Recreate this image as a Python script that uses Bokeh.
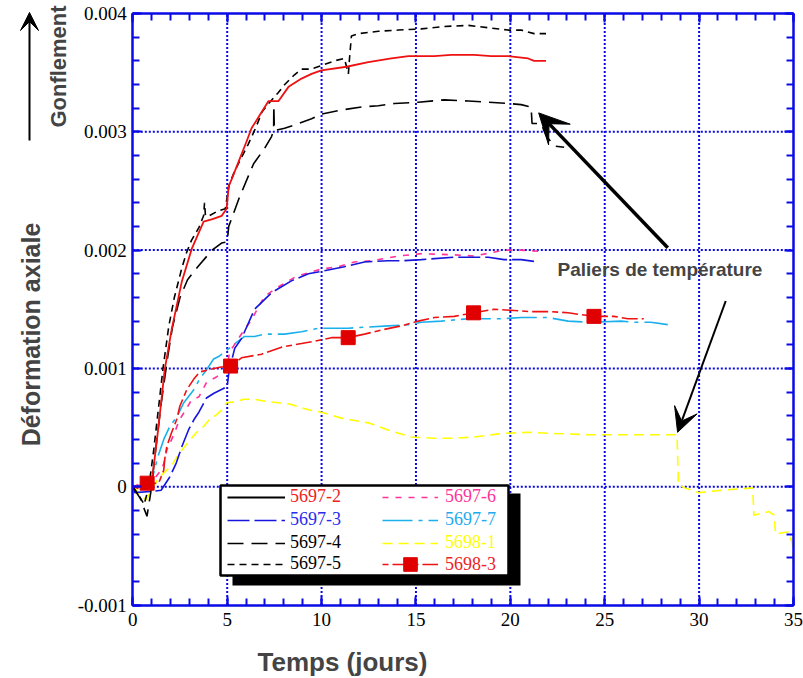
import math
from bokeh.plotting import figure
from bokeh.models import (LinearAxis, SingleIntervalTicker, CustomJSTickFormatter, Range1d,
                          Legend, LegendItem, BoxAnnotation, Label, Arrow, VeeHead)
from bokeh.embed import file_html
from bokeh.resources import INLINE

# ---------------- data (days, axial strain) ----------------
t_5697_2 = [0.0, 0.63, 1.0, 1.37, 1.69, 2.06, 2.59, 3.12, 3.75, 4.18, 4.71, 4.97, 5.08, 5.24,
            5.61, 6.03, 6.29, 6.72, 7.19, 7.72, 8.25, 8.94, 9.47, 9.99, 11.32, 12.48, 13.7,
            14.6, 15.97, 16.87, 18.09, 18.98, 19.88, 20.94, 21.26, 21.89]
v_5697_2 = [0.0, 0.0, 0.00003, 0.00052, 0.00099, 0.00133, 0.00173, 0.00201, 0.00224, 0.00226,
            0.00229, 0.00235, 0.00254, 0.00260, 0.00275, 0.00292, 0.00303, 0.00314, 0.00326,
            0.00326, 0.00338, 0.00345, 0.00349, 0.00352, 0.00355, 0.00359, 0.00362, 0.00364,
            0.00364, 0.00365, 0.00365, 0.00364, 0.00364, 0.00362, 0.00360, 0.00360]

t_5697_3 = [0.0, 0.1, 1.0, 1.5, 1.95, 2.3, 2.6, 2.95, 3.25, 3.5, 3.9, 4.3, 4.8, 5.0, 5.1, 5.4,
            5.75, 6.45, 7.35, 8.4, 9.3, 9.99, 11.21, 12.27, 13.54, 14.23, 15.28, 17.03, 18.83,
            19.67, 20.57, 21.47]
v_5697_3 = [0.0, -0.00005, -0.00004, -0.00003, 0.00008, 0.00020, 0.00034, 0.00048, 0.00057,
            0.00063, 0.00075, 0.00079, 0.00083, 0.00085, 0.00098, 0.00117, 0.00125, 0.00150,
            0.00164, 0.00174, 0.00180, 0.00182, 0.00186, 0.00190, 0.00191, 0.00191, 0.00192,
            0.00194, 0.00194, 0.00192, 0.00192, 0.00190]

t_5697_4 = [0.0, 0.4, 0.75, 0.95, 1.2, 1.5, 1.85, 2.1, 2.5, 2.9, 3.5, 4.2, 4.7, 5.0, 5.08,
            5.61, 6.13, 6.4, 6.98, 7.35, 7.46, 7.47, 7.5, 8.04, 8.78, 9.47, 9.99, 10.89, 12.11,
            13.01, 13.86, 15.12, 16.5, 17.77, 18.83, 19.88, 20.57, 21.1, 21.15, 21.63, 21.89,
            22.32, 22.85]
v_5697_4 = [0.0, -0.00010, -0.00025, -0.00005, 0.00030, 0.00070, 0.00110, 0.00135, 0.00160,
            0.00175, 0.00187, 0.00200, 0.00206, 0.00207, 0.00220, 0.00243, 0.00263, 0.00273,
            0.00286, 0.00296, 0.00301, 0.00322, 0.00301, 0.00303, 0.00307, 0.00311, 0.00315,
            0.00318, 0.00321, 0.00322, 0.00324, 0.00325, 0.00327, 0.00326, 0.00325, 0.00324,
            0.00323, 0.00321, 0.00307, 0.00307, 0.00297, 0.00288, 0.00287]

t_5697_5 = [0.0, 0.35, 0.6, 0.85, 1.1, 1.35, 1.6, 1.9, 2.2, 2.6, 2.85, 3.1, 3.5, 3.75, 3.8,
            3.85, 4.05, 4.5, 4.9, 5.1, 5.4, 5.75, 6.1, 6.5, 6.85, 7.2, 7.7, 8.05, 8.55, 8.94,
            9.45, 9.99, 10.68, 11.21, 11.42, 11.48, 11.58, 11.95, 13.01, 14.07, 15.28, 16.5,
            17.77, 18.83, 19.88, 20.57, 21.26, 21.89]
v_5697_5 = [0.0, -0.00008, -0.00015, 0.0, 0.00030, 0.00065, 0.00100, 0.00135, 0.00160,
            0.00185, 0.00198, 0.00208, 0.00219, 0.00229, 0.00240, 0.00229, 0.00229, 0.00233,
            0.00235, 0.00255, 0.00267, 0.00278, 0.00289, 0.00303, 0.00317, 0.00324, 0.00333,
            0.00340, 0.00348, 0.00353, 0.00353, 0.00356, 0.00360, 0.00362, 0.00349, 0.00362,
            0.00381, 0.00383, 0.00385, 0.00386, 0.00387, 0.00389, 0.00390, 0.00388, 0.00386,
            0.00386, 0.00383, 0.00383]

t_5697_6 = [0.0, 0.5, 1.0, 1.5, 1.65, 1.8, 2.2, 2.45, 2.8, 3.1, 3.5, 3.9, 4.45, 4.97, 5.13,
            5.92, 6.29, 6.66, 6.98, 7.72, 8.57, 9.31, 9.99, 10.89, 11.74, 12.64, 14.07, 15.28,
            17.03, 18.09, 19.67, 20.57, 21.47]
v_5697_6 = [0.0, 0.00003, 0.00004, 0.00014, 0.00020, 0.00031, 0.00045, 0.00056, 0.00065,
            0.00073, 0.00076, 0.00088, 0.00093, 0.00099, 0.00114, 0.00133, 0.00141, 0.00152,
            0.00161, 0.00169, 0.00177, 0.00181, 0.00184, 0.00186, 0.00190, 0.00191, 0.00195,
            0.00197, 0.00196, 0.00195, 0.00200, 0.00200, 0.00199]

t_5697_7 = [0.0, 0.6, 1.0, 1.32, 1.64, 1.96, 2.33, 2.7, 3.23, 3.54, 3.91, 4.28, 4.55, 5.5,
            5.92, 6.45, 6.98, 8.04, 8.94, 9.84, 11.42, 12.48, 13.54, 14.6, 15.28, 16.34, 17.77,
            19.51, 20.57, 22.0, 23.06, 24.27, 25.86, 26.54, 27.44, 28.34]
v_5697_7 = [0.0, 0.00002, 0.00005, 0.00025, 0.00040, 0.00051, 0.00059, 0.00071, 0.00082,
            0.00091, 0.00099, 0.00108, 0.00110, 0.00122, 0.00127, 0.00127, 0.00129, 0.00129,
            0.00131, 0.00134, 0.00134, 0.00135, 0.00136, 0.00137, 0.00139, 0.00140, 0.00142,
            0.00142, 0.00143, 0.00143, 0.00140, 0.00139, 0.00140, 0.00139, 0.00139, 0.00137]

t_5698_1 = [0.0, 0.2, 0.37, 0.74, 0.9, 1.4, 1.8, 2.06, 2.33, 2.6, 2.96, 3.38, 3.75, 4.07, 4.44,
            4.71, 4.97, 5.5, 5.87, 6.4, 7.08, 8.3, 9.31, 9.99, 11.05, 12.48, 13.7, 14.76, 15.97,
            17.03, 18.09, 19.51, 20.94, 22.37, 24.11, 25.91, 27.65, 28.83, 28.9, 29.24, 29.98,
            31.2, 32.84, 32.9, 33.7, 33.97, 34.05, 34.74, 34.95, 35.0]
v_5698_1 = [0.0, -0.00003, -0.00008, -0.00011, -0.00005, 0.00008, 0.00014, 0.00018, 0.00025,
            0.00031, 0.00038, 0.00046, 0.00051, 0.00057, 0.00061, 0.00065, 0.00071, 0.00072,
            0.00074, 0.00074, 0.00072, 0.00070, 0.00065, 0.00063, 0.00058, 0.00054, 0.00047,
            0.00042, 0.00041, 0.00041, 0.00042, 0.00045, 0.00046, 0.00045, 0.00044, 0.00044,
            0.00044, 0.00044, 0.00002, -0.00001, -0.00005, -0.00003, -0.00001, -0.00024,
            -0.00021, -0.00024, -0.00040, -0.00038, -0.00049, -0.00066]

t_5698_3 = [0.0, 0.4, 0.76, 1.37, 1.64, 1.69, 1.8, 2.06, 2.33, 2.49, 2.7, 2.86, 3.23, 3.54,
            4.07, 4.6, 5.18, 5.76, 6.82, 7.88, 8.94, 9.63, 10.52, 11.41, 12.27, 13.33, 14.23,
            15.12, 15.97, 17.03, 18.05, 19.14, 20.2, 21.1, 22.16, 23.06, 24.43, 25.49, 26.23,
            27.07]
v_5698_3 = [0.0, -0.00002, 0.00003, 0.00003, 0.00014, 0.00023, 0.00034, 0.00046, 0.00057,
            0.00068, 0.00076, 0.00082, 0.00091, 0.00097, 0.00099, 0.00101, 0.00102, 0.00109,
            0.00112, 0.00118, 0.00121, 0.00123, 0.00126, 0.00126, 0.00129, 0.00133, 0.00136,
            0.00140, 0.00143, 0.00144, 0.00147, 0.00150, 0.00149, 0.00148, 0.00148, 0.00147,
            0.00144, 0.00144, 0.00142, 0.00142]
t_5698_3_marks = [0.76, 5.18, 11.41, 18.05, 24.43]
v_5698_3_marks = [0.00003, 0.00102, 0.00126, 0.00147, 0.00144]

x_ticks = [0, 5, 10, 15, 20, 25, 30, 35]
y_ticks = [-0.001, 0.0, 0.001, 0.002, 0.003, 0.004]

AXIS_BLUE = "#0a0ae6"
X_MIN, X_MAX = x_ticks[0], x_ticks[-1]
Y_MIN, Y_MAX = y_ticks[0], y_ticks[-1]

# the frame fills the whole canvas; the four axes sit at fixed data locations
p = figure(width=803, height=678, x_range=Range1d(-7.009, 35.53),
           y_range=Range1d(-0.001621, 0.00411),
           output_backend="svg", toolbar_location=None,
           min_border_left=0, min_border_right=0, min_border_top=0, min_border_bottom=0,
           background_fill_color="white", border_fill_color="white")
p.outline_line_color = None
p.xgrid.visible = False
p.ygrid.visible = False

xt = SingleIntervalTicker(interval=5, num_minor_ticks=5)
yt = SingleIntervalTicker(interval=0.001, num_minor_ticks=5)
blank = CustomJSTickFormatter(code="return '';")


def style_axis(ax, labels=True):
    ax.axis_line_color = AXIS_BLUE
    ax.axis_line_width = 2.5
    ax.major_tick_line_color = AXIS_BLUE
    ax.minor_tick_line_color = AXIS_BLUE
    ax.major_tick_line_width = 2
    ax.minor_tick_line_width = 2
    ax.major_tick_in = 9
    ax.major_tick_out = 0
    ax.minor_tick_in = 7
    ax.minor_tick_out = 0
    if labels:
        ax.major_label_text_font = "Liberation Serif"
        ax.major_label_text_font_size = "19px"
        ax.major_label_text_color = "black"
    else:
        ax.formatter = blank
        ax.major_label_standoff = 0


# ---------------- dotted grid (drawn first, under the data) ----------------
p.segment(x0=x_ticks[1:-1], y0=[Y_MIN] * (len(x_ticks) - 2),
          x1=x_ticks[1:-1], y1=[Y_MAX] * (len(x_ticks) - 2),
          line_color=AXIS_BLUE, line_width=2, line_dash="2 2", level="underlay")
p.segment(x0=[X_MIN] * (len(y_ticks) - 2), y0=y_ticks[1:-1],
          x1=[X_MAX] * (len(y_ticks) - 2), y1=y_ticks[1:-1],
          line_color=AXIS_BLUE, line_width=2, line_dash="2 2", level="underlay")

xax = p.xaxis[0]
yax = p.yaxis[0]
xax.ticker = xt
yax.ticker = yt
xax.formatter = CustomJSTickFormatter(code="return tick.toFixed(0);")
yax.formatter = CustomJSTickFormatter(code="return Math.abs(tick) < 1e-9 ? '0' : tick.toFixed(3);")
style_axis(xax)
style_axis(yax)
xax.major_label_standoff = 8
yax.major_label_standoff = 6
xax.fixed_location = Y_MIN
yax.fixed_location = X_MIN
xax.bounds = (X_MIN, X_MAX)
yax.bounds = (Y_MIN, Y_MAX)

top_ax = LinearAxis(ticker=xt, bounds=(X_MIN, X_MAX), fixed_location=Y_MAX)
right_ax = LinearAxis(ticker=yt, bounds=(Y_MIN, Y_MAX), fixed_location=X_MAX)
style_axis(top_ax, labels=False)
style_axis(right_ax, labels=False)
p.add_layout(top_ax, "above")
p.add_layout(right_ax, "right")

# ---------------- series ----------------
RED = "#ee1111"
r_yel = p.line(t_5698_1, v_5698_1, line_color="#ffff00", line_width=1.6, line_dash="10 6")
r_cyan = p.line(t_5697_7, v_5697_7, line_color="#1ab0ec", line_width=1.6, line_dash="30 6 4 6")
r_mag = p.line(t_5697_6, v_5697_6, line_color="#ff3399", line_width=1.6, line_dash="6 7")
r_blue = p.line(t_5697_3, v_5697_3, line_color="#1515dd", line_width=1.6, line_dash="22 5")
r_4 = p.line(t_5697_4, v_5697_4, line_color="black", line_width=1.6, line_dash="16 8")
r_5 = p.line(t_5697_5, v_5697_5, line_color="black", line_width=1.6, line_dash="7 5")
r_2 = p.line(t_5697_2, v_5697_2, line_color=RED, line_width=1.8)
r_3l = p.line(t_5698_3, v_5698_3, line_color=RED, line_width=1.6, line_dash="6 4 16 4")
r_3m = p.scatter(t_5698_3_marks, v_5698_3_marks, marker="square", size=14,
                 fill_color="#e00000", line_color="#e00000")
# legend-only glyph for 5697-2 (black solid in the key)
r_2leg = p.line([float("nan")], [float("nan")], line_color="black", line_width=2.2)

# ---------------- legend box (screen px, frame = canvas) ----------------
p.add_layout(BoxAnnotation(left=232, right=520, bottom=93, top=185,
                           left_units="screen", right_units="screen",
                           top_units="screen", bottom_units="screen",
                           fill_color="black", fill_alpha=1, line_color=None))
p.add_layout(BoxAnnotation(left=220, right=508, bottom=103, top=193,
                           left_units="screen", right_units="screen",
                           top_units="screen", bottom_units="screen",
                           fill_color="white", fill_alpha=1, line_color="black",
                           line_alpha=1, line_width=2.5))

legend_entries = [
    ("5697-2", [r_2leg], "#ee2222", 0, 0),
    ("5697-3", [r_blue], "#2a2aee", 0, 1),
    ("5697-4", [r_4], "black", 0, 2),
    ("5697-5", [r_5], "black", 0, 3),
    ("5697-6", [r_mag], "#ff3399", 1, 0),
    ("5697-7", [r_cyan], "#22aaee", 1, 1),
    ("5698-1", [r_yel], "#ffff00", 1, 2),
    ("5698-3", [r_3l, r_3m], "#ee2222", 1, 3),
]
col_x = [227, 382]
col_gw = [58, 56]
col_sd = [5, 7]
row_center = [181, 158, 135, 114]
for lab, rends, col, ci, ri in legend_entries:
    gh = 34 if lab == "5698-3" else 20
    lg = Legend(items=[LegendItem(label=lab, renderers=rends)],
                location=(col_x[ci], row_center[ri] - gh / 2),
                padding=0, margin=0, spacing=0,
                glyph_width=col_gw[ci], glyph_height=gh, label_height=20,
                label_standoff=col_sd[ci],
                label_text_font="Liberation Serif", label_text_font_size="18px",
                label_text_color=col, border_line_color=None,
                background_fill_alpha=0)
    p.add_layout(lg)

# ---------------- titles & annotations ----------------
p.add_layout(Label(x=342, y=17, x_units="screen", y_units="screen", text="Temps (jours)",
                   text_font="Liberation Sans", text_font_style="bold",
                   text_font_size="26px", text_align="center", text_baseline="alphabetic"))
p.add_layout(Label(x=30, y=344, x_units="screen", y_units="screen", text="Déformation axiale",
                   angle=math.pi / 2, text_font="Liberation Sans", text_font_style="bold",
                   text_font_size="25px", text_align="center", text_baseline="middle"))
p.add_layout(Label(x=58, y=612, x_units="screen", y_units="screen", text="Gonflement",
                   angle=math.pi / 2, text_font="Liberation Sans", text_font_style="bold",
                   text_font_size="22px", text_align="center", text_baseline="middle"))
p.add_layout(Arrow(x_start=29, y_start=538, x_end=29, y_end=666,
                   start_units="screen", end_units="screen",
                   line_color="black", line_width=2,
                   end=VeeHead(size=18, fill_color="black", line_color="black")))

p.add_layout(Label(x=22.5, y=0.00184, text="Paliers de température",
                   text_font="Liberation Sans", text_font_style="bold",
                   text_font_size="19px", text_align="left", text_baseline="middle"))
p.add_layout(Arrow(x_start=28.34, y_start=0.00202, x_end=21.5, y_end=0.00316,
                   line_color="black", line_width=3.5,
                   end=VeeHead(size=30, fill_color="black", line_color="black")))
p.add_layout(Arrow(x_start=31.41, y_start=0.00157, x_end=28.86, y_end=0.00046,
                   line_color="black", line_width=2,
                   end=VeeHead(size=24, fill_color="black", line_color="black")))

open("out.html", "w").write(file_html(p, INLINE))
